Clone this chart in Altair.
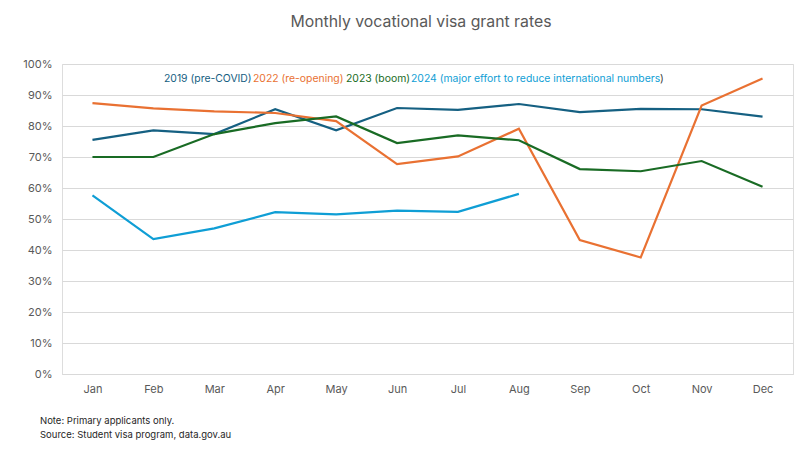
import altair as alt
import pandas as pd

months = ["Jan", "Feb", "Mar", "Apr", "May", "Jun", "Jul", "Aug", "Sep", "Oct", "Nov", "Dec"]
s2019 = [75.5, 78.6, 77.4, 85.4, 78.6, 85.8, 85.2, 87.1, 84.5, 85.5, 85.4, 83.0]
s2022 = [87.4, 85.7, 84.7, 84.2, 81.6, 67.7, 70.2, 79.1, 43.2, 37.6, 86.6, 95.3]
s2023 = [70.0, 70.0, 77.4, 80.9, 83.1, 74.5, 77.0, 75.4, 66.1, 65.4, 68.7, 60.4]
s2024 = [57.6, 43.5, 47.0, 52.2, 51.5, 52.7, 52.3, 58.1]

series_names = ["2019", "2022", "2023", "2024"]
series_labels = ["2019 (pre-COVID)", "2022 (re-opening)", "2023 (boom)",
                 "2024 (major effort to reduce international numbers"]
colors = ["#156082", "#E97132", "#196B24", "#0F9ED5"]

rows = []
for name, vals in zip(series_names, [s2019, s2022, s2023, s2024]):
    for m, v in zip(months, vals):
        rows.append({"month": m, "series": name, "rate": v / 100})
df = pd.DataFrame(rows)

FONT = "Inter"
W, H = 731, 310

base = alt.Chart(df)
lines = base.mark_line(strokeWidth=2.2).encode(
    x=alt.X("month:N", sort=months, title=None,
            scale=alt.Scale(type="point", padding=0.5),
            axis=alt.Axis(labelAngle=0, ticks=False, domain=True, domainColor="#d9d9d9",
                          labelColor="#595959", labelFontSize=11, labelFont=FONT,
                          labelPadding=9, grid=False)),
    y=alt.Y("rate:Q", title=None,
            scale=alt.Scale(domain=[0, 1], nice=False),
            axis=alt.Axis(values=[i / 10 for i in range(11)], format=".0%", ticks=False,
                          domain=False, gridColor="#d9d9d9", labelColor="#595959",
                          labelFontSize=11, labelFont=FONT, labelPadding=10)),
    color=alt.Color("series:N", scale=alt.Scale(domain=series_names, range=colors), legend=None),
)

title = alt.Chart(pd.DataFrame({"t": ["Monthly vocational visa grant rates"]})).mark_text(
    font=FONT, fontSize=15.8, color="#595959", align="center", baseline="middle"
).encode(text="t:N", x=alt.value(359), y=alt.value(-42))

legend_x = [102, 191, 284, 349]
legend_layers = []
for lab, col, lx in zip(series_labels, colors, legend_x):
    legend_layers.append(
        alt.Chart(pd.DataFrame({"t": [lab]})).mark_text(
            font=FONT, fontSize=10.4, color=col, align="left", baseline="middle"
        ).encode(text="t:N", x=alt.value(lx), y=alt.value(15))
    )
close_paren = alt.Chart(pd.DataFrame({"t": [")"]})).mark_text(
    font=FONT, fontSize=10.4, color="#404040", align="left", baseline="middle"
).encode(text="t:N", x=alt.value(598), y=alt.value(15))

notes = alt.Chart(pd.DataFrame({"t": ["Note: Primary applicants only.",
                                      "Source: Student visa program, data.gov.au"],
                                "yy": [357, 371]})).mark_text(
    font=FONT, fontSize=9.5, color="#262626", align="left", baseline="middle"
).encode(text="t:N", x=alt.value(-22), y=alt.Y("yy:Q", scale=None))

chart = alt.layer(lines, title, *legend_layers, close_paren, notes).properties(
    width=W, height=H,
    autosize=alt.AutoSizeParams(type="none"),
    padding={"left": 54, "top": 56, "right": 8, "bottom": 73},
).configure_view(stroke=None).configure(background="white")

chart.save("out.html", embed_options={"renderer": "svg", "actions": False})
